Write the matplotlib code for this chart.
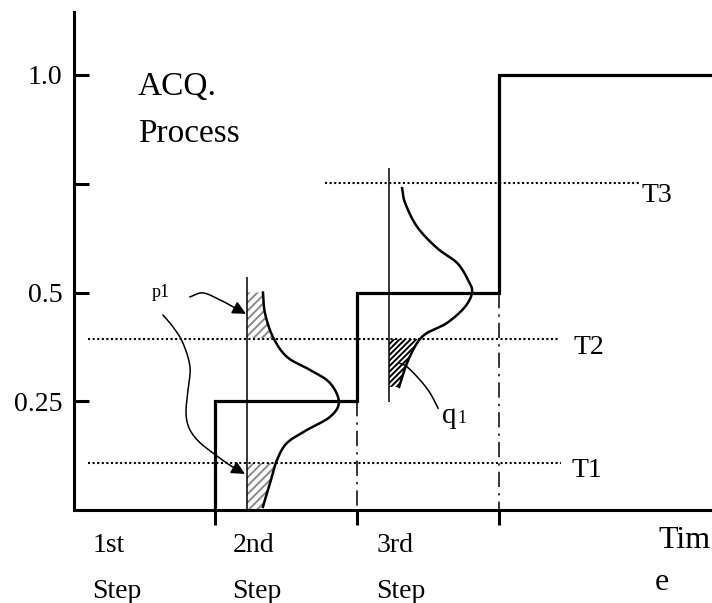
import numpy as np
import matplotlib
matplotlib.use("Agg")
import matplotlib.pyplot as plt
from matplotlib.transforms import Bbox

# ---- data -------------------------------------------------------------
step_edges = [1, 2, 3]                 # step boundaries on the time axis
step_levels = [0.25, 0.5, 1.0]         # acquisition level reached at each step
y_ticks = [0.25, 0.5, 0.75, 1.0]
y_tick_labels = ["0.25", "0.5", "", "1.0"]
step_names = ["1st", "2nd", "3rd"]

thresholds = {"T1": 0.108, "T2": 0.393, "T3": 0.752}

# score distribution measured during the 2nd step (level, density)
dist2_base = 1.224
dist2_level = [0.50, 0.453, 0.398, 0.352, 0.322, 0.292, 0.248, 0.214,
               0.184, 0.154, 0.115, 0.076, 0.039, 0.007]
dist2_density = [0.113, 0.127, 0.183, 0.282, 0.445, 0.586, 0.649, 0.586,
                 0.423, 0.282, 0.212, 0.176, 0.141, 0.113]

# score distribution measured during the 3rd step
dist3_base = 2.227
dist3_level = [0.740, 0.706, 0.651, 0.602, 0.568, 0.529, 0.501, 0.467,
               0.430, 0.407, 0.384, 0.338, 0.283]
dist3_density = [0.092, 0.113, 0.198, 0.339, 0.480, 0.557, 0.586, 0.536,
                 0.409, 0.268, 0.198, 0.127, 0.071]

# ---- helpers ----------------------------------------------------------
def smooth(xs, ys, n=16):
    """Catmull-Rom curve through the given points."""
    p = np.column_stack([xs, ys]).astype(float)
    p = np.vstack([2 * p[0] - p[1], p, 2 * p[-1] - p[-2]])
    out = []
    for i in range(1, len(p) - 2):
        p0, p1, p2, p3 = p[i - 1], p[i], p[i + 1], p[i + 2]
        t = np.linspace(0, 1, n, endpoint=False)[:, None]
        seg = 0.5 * ((2 * p1) + (-p0 + p2) * t
                     + (2 * p0 - 5 * p1 + 4 * p2 - p3) * t ** 2
                     + (-p0 + 3 * p1 - 3 * p2 + p3) * t ** 3)
        out.append(seg)
    out.append(p[-2][None, :])
    c = np.vstack(out)
    return c[:, 0], c[:, 1]


W, H = 712, 603


def fxy(px, py):
    return px / W, 1 - py / H


plt.rcParams["font.family"] = ["Liberation Serif", "DejaVu Serif"]
plt.rcParams["hatch.linewidth"] = 1.4

fig = plt.figure(figsize=(W / 100, H / 100), dpi=100)
ax = fig.add_axes([73.5 / W, 93 / H, 638.5 / W, 498 / H])
xmax = 638.5 / 141.7
ax.set_xlim(0, xmax)
ax.set_ylim(0, 498 / 435)

for s in ("top", "right"):
    ax.spines[s].set_visible(False)
for s in ("left", "bottom"):
    ax.spines[s].set_linewidth(2.2)

ax.set_yticks(y_ticks)
ax.set_yticklabels(y_tick_labels, fontsize=20)
ax.tick_params(axis="y", direction="in", length=11, width=2.2, pad=8)
ax.set_xticks(step_edges)
ax.set_xticklabels([])
ax.tick_params(axis="x", direction="out", length=11, width=2.2)

# staircase of acquisition levels
sx, sy = [step_edges[0]], [0.0]
for i, lv in enumerate(step_levels):
    nxt = step_edges[i + 1] if i + 1 < len(step_edges) else xmax
    sx += [step_edges[i], nxt]
    sy += [lv, lv]
ax.plot(sx, sy, color="black", lw=2.3, solid_joinstyle="miter", clip_on=False)

# dash-dot step boundaries
for e, lv in zip(step_edges[1:], step_levels[:-1]):
    ax.plot([e, e], [lv, 0], color="black", lw=1.1,
            linestyle=(0, (10, 4, 1.5, 4)))

# threshold lines
dot = (0, (1, 1.2))
ax.hlines(thresholds["T1"], 0.102, 3.44, color="black", lw=1.5, linestyle=dot)
ax.hlines(thresholds["T2"], 0.102, 3.43, color="black", lw=1.5, linestyle=dot)
ax.hlines(thresholds["T3"], 1.775, 4.0, color="black", lw=1.5, linestyle=dot)

# distribution axes
ax.vlines(dist2_base, 0, 0.536, color="black", lw=1.1)
ax.vlines(dist3_base, 0.248, 0.786, color="black", lw=1.1)

# distribution curves
c2x, c2y = smooth(dist2_base + np.array(dist2_density), dist2_level)
c3x, c3y = smooth(dist3_base + np.array(dist3_density), dist3_level)
ax.plot(c2x, c2y, color="black", lw=1.8)
ax.plot(c3x, c3y, color="black", lw=1.8)

# hatched tails
m = c2y >= thresholds["T2"]
ax.fill_betweenx(c2y[m], dist2_base, c2x[m], facecolor="none",
                 edgecolor="#8a8a8a", hatch="////", linewidth=0)
m = c2y <= thresholds["T1"]
yy = np.r_[c2y[m], 0.0]
xx = np.r_[c2x[m], c2x[m][-1]]
ax.fill_betweenx(yy, dist2_base, xx, facecolor="none",
                 edgecolor="#8a8a8a", hatch="////", linewidth=0)
m = c3y <= thresholds["T2"]
ax.fill_betweenx(c3y[m], dist3_base, c3x[m], facecolor="none",
                 edgecolor="black", hatch="//////", linewidth=0)

# p1 pointers
p1_upper = ([0.822, 0.914, 1.034, 1.126, 1.217],
            [0.490, 0.499, 0.483, 0.467, 0.451])
p1_lower = ([0.632, 0.702, 0.772, 0.822, 0.808, 0.794, 0.815, 0.879,
             0.984, 1.104, 1.210],
            [0.448, 0.421, 0.384, 0.329, 0.276, 0.225, 0.189, 0.159,
             0.131, 0.103, 0.083])
for px_, py_ in (p1_upper, p1_lower):
    lx, ly = smooth(px_, py_)
    ax.plot(lx[:-3], ly[:-3], color="black", lw=1.1)
    ax.annotate("", xy=(lx[-1], ly[-1]), xytext=(lx[-4], ly[-4]),
                arrowprops=dict(arrowstyle="-|>", color="black", lw=1.1,
                                mutation_scale=20, shrinkA=0, shrinkB=0))

# q1 pointer
qx, qy = smooth([2.297, 2.354, 2.445, 2.516, 2.573],
                [0.338, 0.329, 0.299, 0.269, 0.234])
ax.plot(qx, qy, color="black", lw=1.1)

# ---- text -------------------------------------------------------------
fig.text(*fxy(138, 95), "ACQ.", fontsize=24, va="baseline")
fig.text(*fxy(138, 142), "Process", fontsize=24, va="baseline")
fig.text(*fxy(152, 297), "p1", fontsize=13, va="baseline")
fig.text(*fxy(442, 423), "q", fontsize=21, va="baseline")
fig.text(*fxy(457, 423), "1", fontsize=13, va="baseline")
fig.text(*fxy(572, 477), "T1", fontsize=20, va="baseline")
fig.text(*fxy(573, 354), "T2", fontsize=20, va="baseline")
t3 = fig.text(*fxy(642, 202), "T3", fontsize=20, va="baseline")
t3.set_clip_box(Bbox([[600, 0], [W, H - 184]]))
t3.set_clip_on(True)

for name, px in zip(step_names, [93, 233, 377]):
    fig.text(*fxy(px, 552), name, fontsize=20, va="baseline")
    fig.text(*fxy(px - 1, 598), "Step", fontsize=20, va="baseline")
fig.text(*fxy(658, 548), "Tim", fontsize=23, va="baseline")
fig.text(*fxy(655, 590), "e", fontsize=23, va="baseline")

fig.savefig("out.png", dpi=100)
